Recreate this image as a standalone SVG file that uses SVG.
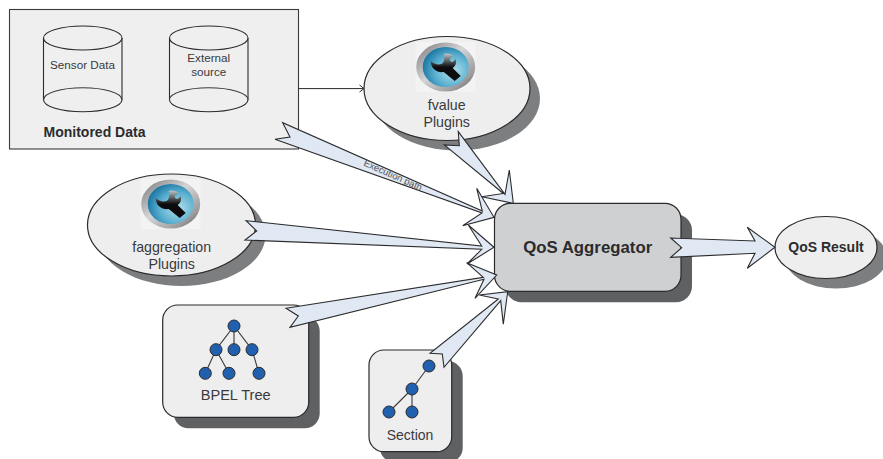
<svg xmlns="http://www.w3.org/2000/svg" xmlns:xlink="http://www.w3.org/1999/xlink" width="883" height="459" viewBox="0 0 883 459">
<style>
text{font-family:"Liberation Sans",Arial,sans-serif;fill:#3a3a3c;text-anchor:middle}
.b{font-weight:bold;fill:#2b2b2d}
.n{fill:#eeeeef;stroke:#2b2b2d;stroke-width:1.2}
.sl{fill:#7d7e80}
.sd{fill:#5f6062}
.a{fill:#dfe8f3;stroke:#2b2b2d;stroke-width:1.1;stroke-linejoin:miter}
.c{fill:#efefef;stroke:#2b2b2d;stroke-width:1.1}
.t{fill:#2060ae;stroke:#2b2b2d;stroke-width:1}
.e{stroke:#3a3a3c;stroke-width:1.1;fill:none}
</style>
<defs>
<radialGradient id="bl" cx="0.65" cy="0.6" r="0.65"><stop offset="0" stop-color="#b5e0ec"/><stop offset="0.6" stop-color="#5ab0d0"/><stop offset="1" stop-color="#1f7aa6"/></radialGradient>
<linearGradient id="rg" x1="0" y1="0" x2="1" y2="1"><stop offset="0" stop-color="#77777a"/><stop offset="0.45" stop-color="#d5d5d7"/><stop offset="0.8" stop-color="#9a9a9c"/><stop offset="1" stop-color="#4a4a4c"/></linearGradient>
<linearGradient id="wr" x1="0" y1="0" x2="0" y2="1"><stop offset="0" stop-color="#b9c6ca"/><stop offset="0.35" stop-color="#3c3f41"/><stop offset="0.5" stop-color="#0c0c0e"/><stop offset="1" stop-color="#0c0c0e"/></linearGradient>
<g id="icon">
<rect x="-30" y="-25" width="60" height="50" fill="#f3f3f4"/>
<ellipse rx="29.500" ry="24.500" fill="url(#rg)"/>
<ellipse rx="23" ry="20" fill="url(#bl)"/>
<path d="M-15,-6 C-12,-3 -8,-2 -4,-3 C-1,-5 -1,-10 -2,-13 C2,-14 6,-13 8,-11 L4,-8 C4,-6 5,-5 7,-5 L10,-8 C11,-4 10,-1 7,1 L15,9 L9,14 L-2,5 C-8,6 -15,2 -15,-6 Z" fill="url(#wr)"/>
</g>
</defs>
<g id="monitored-data">
<rect x="9.500" y="9.500" width="289" height="139.500" fill="#efefef" stroke="#3a3a3c" stroke-width="1.100"/>
<g id="sensor-data">
<path class="c" d="M43.500,38 V99.700 A39.250,12 0 0 0 122,99.700 V38"/>
<ellipse class="c" cx="82.750" cy="38" rx="39.250" ry="12"/>
<path class="e" d="M43.500,99.700 A39.250,12 0 0 1 122,99.700"/>
<text x="82.500" y="69" font-size="11.700">Sensor Data</text>
</g>
<g id="external-source">
<path class="c" d="M169.500,38 V99.700 A39.250,12 0 0 0 248,99.700 V38"/>
<ellipse class="c" cx="208.750" cy="38" rx="39.250" ry="12"/>
<path class="e" d="M169.500,99.700 A39.250,12 0 0 1 248,99.700"/>
<text x="208.700" y="62" font-size="11.700">External</text>
<text x="208.700" y="76" font-size="11.700">source</text>
</g>
<text class="b" x="94.500" y="136.700" font-size="14">Monitored Data</text>
</g>
<g id="fvalue-plugins">
<ellipse class="sl" cx="457" cy="98.500" rx="83" ry="52"/>
<ellipse class="n" cx="447" cy="88.500" rx="83" ry="52"/>
<use xlink:href="#icon" href="#icon" x="445.700" y="67"/>
<text x="446.700" y="110" font-size="14.200">fvalue</text>
<text x="446.700" y="126.700" font-size="14.200">Plugins</text>
</g>
<g id="faggregation-plugins">
<ellipse class="sl" cx="181.500" cy="235" rx="84" ry="51"/>
<ellipse class="n" cx="171.500" cy="225" rx="84" ry="51"/>
<use xlink:href="#icon" href="#icon" x="170.700" y="204"/>
<text x="171.700" y="251.700" font-size="14.200">faggregation</text>
<text x="171.700" y="269" font-size="14.200">Plugins</text>
</g>
<g id="qos-aggregator">
<rect class="sd" x="505.500" y="214.300" width="186.500" height="88" rx="16"/>
<rect x="494.500" y="203.300" width="186.500" height="88" rx="16" fill="#cfd0d2" stroke="#2b2b2d" stroke-width="1.200"/>
<text class="b" x="587.700" y="252.700" font-size="16.800">QoS Aggregator</text>
</g>
<g id="qos-result">
<ellipse class="sl" cx="836" cy="257.500" rx="51" ry="31"/>
<ellipse class="n" cx="826" cy="247.500" rx="51" ry="31"/>
<text class="b" x="826" y="251.700" font-size="14">QoS Result</text>
</g>
<g id="bpel-tree">
<rect class="sd" x="173.700" y="316" width="146" height="112.300" rx="15"/>
<rect class="n" x="162.700" y="305" width="146" height="112.300" rx="15"/>
<path class="e" d="M234,326 L216,349.700 M234,326 V349.700 M234,326 L252,349.700 M216,349.700 L205.300,373.300 M216,349.700 L229,373.300 M252,349.700 L259,373.300"/>
<circle class="t" cx="234" cy="326" r="6"/>
<circle class="t" cx="216" cy="349.700" r="6"/>
<circle class="t" cx="234" cy="349.700" r="6"/>
<circle class="t" cx="252" cy="349.700" r="6"/>
<circle class="t" cx="205.300" cy="373.300" r="6"/>
<circle class="t" cx="229" cy="373.300" r="6"/>
<circle class="t" cx="259" cy="373.300" r="6"/>
<text x="235.700" y="400" font-size="14.600">BPEL Tree</text>
</g>
<g id="section">
<rect class="sd" x="380" y="361" width="82.700" height="101.700" rx="15"/>
<rect class="n" x="369" y="350" width="82.700" height="101.700" rx="15"/>
<path class="e" d="M429,366 L412,389 M412,389 L389,412 M412,389 V412"/>
<circle class="t" cx="429" cy="366" r="6"/>
<circle class="t" cx="412" cy="389" r="6"/>
<circle class="t" cx="389" cy="412" r="6"/>
<circle class="t" cx="412" cy="412" r="6"/>
<text x="410" y="440" font-size="14">Section</text>
</g>
<g id="connectors">
<path d="M298.500,88.600 H363" fill="none" stroke="#2b2b2d" stroke-width="1"/>
<path d="M359.500,85 L364,88.600 L359.500,92" fill="none" stroke="#2b2b2d" stroke-width="1"/>
<polygon class="a" points="458.300,131.700 459.300,145.700 444.300,145 503.300,193.500 481.700,196.700 513.300,203.300 509.300,170 505,194.300"/>
<polygon class="a" points="282.700,122.700 290,137 275,139.300 482,213 462.700,225.700 494,217.300 476.700,188.300 482.300,211"/>
<polygon class="a" points="246,220.700 256.700,231 245,240 481.700,249.300 467,264 494,247.300 468.300,225 481.700,246"/>
<polygon class="a" points="286,308.300 298.300,316 290,327.300 484,279.300 475,298.300 496.700,275 466.700,262.700 483.300,277.300"/>
<polygon class="a" points="430,353.300 442.300,354 444,367.300 500.700,300.700 503.300,324.300 507.700,291.700 479.300,295 498.300,299"/>
<polygon class="a" points="670.700,238 681.700,247.700 670.700,257.300 755,253.300 747.300,268.300 775,247.300 747.300,227.300 755,241"/>
<text transform="translate(391.700,178) rotate(24)" font-size="9.500" style="fill:#555">Execution path</text>
</g>
</svg>
